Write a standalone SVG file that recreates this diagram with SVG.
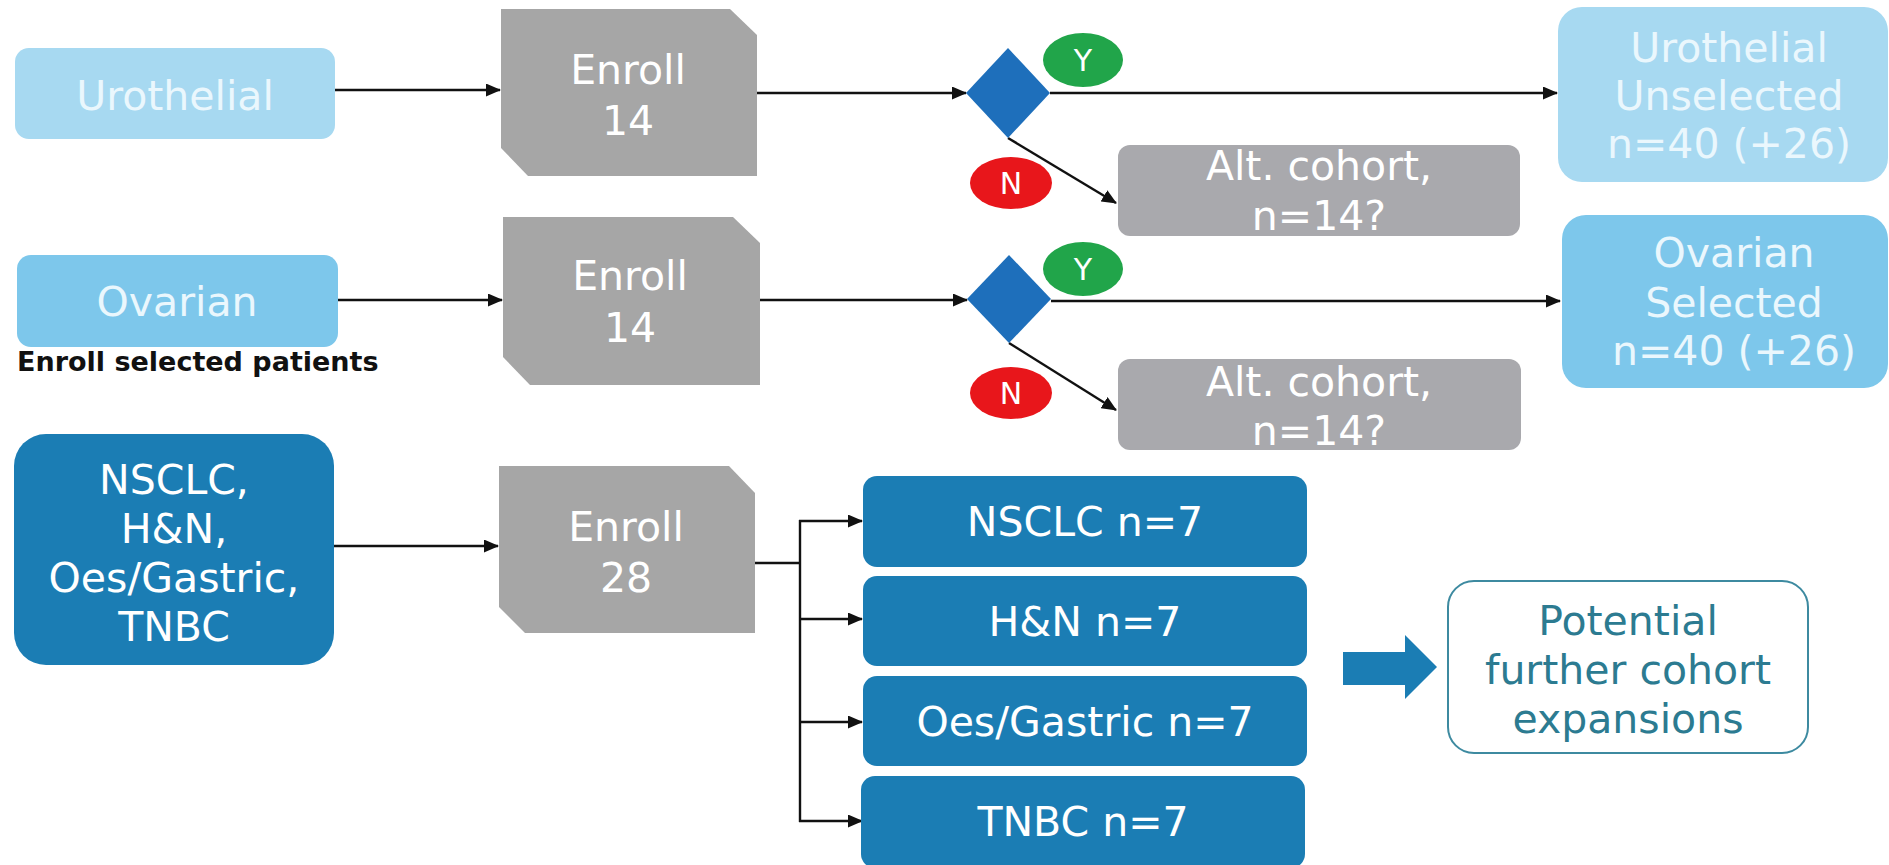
<svg xmlns="http://www.w3.org/2000/svg" width="1889" height="865" viewBox="0 0 1889 865">
  <defs>
    <style>
      text { font-family: 'DejaVu Sans', Verdana, sans-serif; text-anchor: middle; }
      .lbl { font-size: 41px; fill: #ffffff; }
      .pale { font-size: 41px; fill: #eaf7fd; }
      .yn { font-size: 30px; fill: #ffffff; }
      .note { font-size: 27px; font-weight: bold; fill: #111111; text-anchor: start; }
      .teal { font-size: 41px; fill: #2c7b91; }
      .uro { fill: #a7d9f1; }
      .ova { fill: #7dc7eb; }
      .enroll { fill: #a6a6a6; }
      .alt { fill: #a9a9ad; }
      .dark { fill: #1b7db4; }
      .dec { fill: #1e6fbb; }
      .yes { fill: #21a54a; }
      .no { fill: #e8161b; }
      .conn { stroke: #111111; stroke-width: 2.4; fill: none; }
    </style>
    <marker id="arrow" markerUnits="userSpaceOnUse" markerWidth="15" markerHeight="13" refX="14" refY="6.5" orient="auto">
      <path d="M0,0 L15,6.5 L0,13 Z" fill="#111111"/>
    </marker>
  </defs>
  <rect width="1889" height="865" fill="#ffffff"/>

  <!-- connectors -->
  <g id="connectors">
    <line class="conn" x1="335" y1="90" x2="500" y2="90" marker-end="url(#arrow)"/>
    <line class="conn" x1="757" y1="93" x2="966" y2="93" marker-end="url(#arrow)"/>
    <line class="conn" x1="1050" y1="93" x2="1557" y2="93" marker-end="url(#arrow)"/>
    <line class="conn" x1="1008" y1="138" x2="1116" y2="203" marker-end="url(#arrow)"/>

    <line class="conn" x1="338" y1="300" x2="502" y2="300" marker-end="url(#arrow)"/>
    <line class="conn" x1="760" y1="300" x2="967" y2="300" marker-end="url(#arrow)"/>
    <line class="conn" x1="1051" y1="301" x2="1560" y2="301" marker-end="url(#arrow)"/>
    <line class="conn" x1="1009" y1="343" x2="1116" y2="410" marker-end="url(#arrow)"/>

    <line class="conn" x1="334" y1="546" x2="498" y2="546" marker-end="url(#arrow)"/>
    <polyline class="conn" points="755,563 800,563"/>
    <line class="conn" x1="800" y1="520" x2="800" y2="822"/>
    <line class="conn" x1="799" y1="521" x2="862" y2="521" marker-end="url(#arrow)"/>
    <line class="conn" x1="799" y1="619" x2="862" y2="619" marker-end="url(#arrow)"/>
    <line class="conn" x1="799" y1="722" x2="862" y2="722" marker-end="url(#arrow)"/>
    <line class="conn" x1="799" y1="821" x2="862" y2="821" marker-end="url(#arrow)"/>
  </g>

  <!-- row 1: urothelial -->
  <g id="urothelial">
    <rect class="uro" x="15" y="48" width="320" height="91" rx="14"/>
    <text class="pale" x="175" y="110">Urothelial</text>
  </g>
  <g id="enroll-urothelial">
    <path class="enroll" d="M501,9 H730 L757,35 V176 H528 L501,148 Z"/>
    <text class="lbl" x="628" y="84">Enroll</text>
    <text class="lbl" x="628" y="135">14</text>
  </g>
  <g id="decision-urothelial">
    <polygon class="dec" points="966,93 1008,48 1050,93 1008,138"/>
  </g>
  <g id="yes-urothelial">
    <ellipse class="yes" cx="1083" cy="60" rx="40" ry="27"/>
    <text class="yn" x="1083" y="71">Y</text>
  </g>
  <g id="no-urothelial">
    <ellipse class="no" cx="1011" cy="183" rx="41" ry="26"/>
    <text class="yn" x="1011" y="194">N</text>
  </g>
  <g id="alt-urothelial">
    <rect class="alt" x="1118" y="145" width="402" height="91" rx="12"/>
    <text class="lbl" x="1319" y="180">Alt. cohort,</text>
    <text class="lbl" x="1319" y="230">n=14?</text>
  </g>
  <g id="urothelial-unselected">
    <rect class="uro" x="1558" y="7" width="330" height="175" rx="24"/>
    <text class="pale" x="1729" y="62">Urothelial</text>
    <text class="pale" x="1729" y="110">Unselected</text>
    <text class="pale" x="1729" y="158">n=40 (+26)</text>
  </g>

  <!-- row 2: ovarian -->
  <g id="ovarian">
    <rect class="ova" x="17" y="255" width="321" height="92" rx="14"/>
    <text class="pale" x="177" y="316">Ovarian</text>
    <text class="note" x="17" y="371">Enroll selected patients</text>
  </g>
  <g id="enroll-ovarian">
    <path class="enroll" d="M503,217 H733 L760,243 V385 H530 L503,357 Z"/>
    <text class="lbl" x="630" y="290">Enroll</text>
    <text class="lbl" x="630" y="342">14</text>
  </g>
  <g id="decision-ovarian">
    <polygon class="dec" points="967,299 1009,255 1051,299 1009,343"/>
  </g>
  <g id="yes-ovarian">
    <ellipse class="yes" cx="1083" cy="269" rx="40" ry="27"/>
    <text class="yn" x="1083" y="280">Y</text>
  </g>
  <g id="no-ovarian">
    <ellipse class="no" cx="1011" cy="393" rx="41" ry="26"/>
    <text class="yn" x="1011" y="404">N</text>
  </g>
  <g id="alt-ovarian">
    <rect class="alt" x="1118" y="359" width="403" height="91" rx="12"/>
    <text class="lbl" x="1319" y="396">Alt. cohort,</text>
    <text class="lbl" x="1319" y="445">n=14?</text>
  </g>
  <g id="ovarian-selected">
    <rect class="ova" x="1562" y="215" width="326" height="173" rx="24"/>
    <text class="pale" x="1734" y="267">Ovarian</text>
    <text class="pale" x="1734" y="317">Selected</text>
    <text class="pale" x="1734" y="365">n=40 (+26)</text>
  </g>

  <!-- row 3: basket cohorts -->
  <g id="basket">
    <rect class="dark" x="14" y="434" width="320" height="231" rx="32"/>
    <text class="lbl" x="174" y="494">NSCLC,</text>
    <text class="lbl" x="174" y="543">H&amp;N,</text>
    <text class="lbl" x="174" y="592">Oes/Gastric,</text>
    <text class="lbl" x="174" y="641">TNBC</text>
  </g>
  <g id="enroll-basket">
    <path class="enroll" d="M499,466 H729 L755,493 V633 H525 L499,607 Z"/>
    <text class="lbl" x="626" y="541">Enroll</text>
    <text class="lbl" x="626" y="592">28</text>
  </g>
  <g id="nsclc">
    <rect class="dark" x="863" y="476" width="444" height="91" rx="14"/>
    <text class="lbl" x="1085" y="536">NSCLC n=7</text>
  </g>
  <g id="hn">
    <rect class="dark" x="863" y="576" width="444" height="90" rx="14"/>
    <text class="lbl" x="1085" y="636">H&amp;N n=7</text>
  </g>
  <g id="oes-gastric">
    <rect class="dark" x="863" y="676" width="444" height="90" rx="14"/>
    <text class="lbl" x="1085" y="736">Oes/Gastric n=7</text>
  </g>
  <g id="tnbc">
    <rect class="dark" x="861" y="776" width="444" height="92" rx="14"/>
    <text class="lbl" x="1083" y="836">TNBC n=7</text>
  </g>

  <g id="expansion-arrow">
    <polygon class="dark" points="1343,652 1405,652 1405,635 1437,667 1405,699 1405,685 1343,685"/>
  </g>
  <g id="further-expansions">
    <rect x="1448" y="581" width="360" height="172" rx="26" fill="#ffffff" stroke="#3d8aa0" stroke-width="2"/>
    <text class="teal" x="1628" y="635">Potential</text>
    <text class="teal" x="1628" y="684">further cohort</text>
    <text class="teal" x="1628" y="733">expansions</text>
  </g>
</svg>
